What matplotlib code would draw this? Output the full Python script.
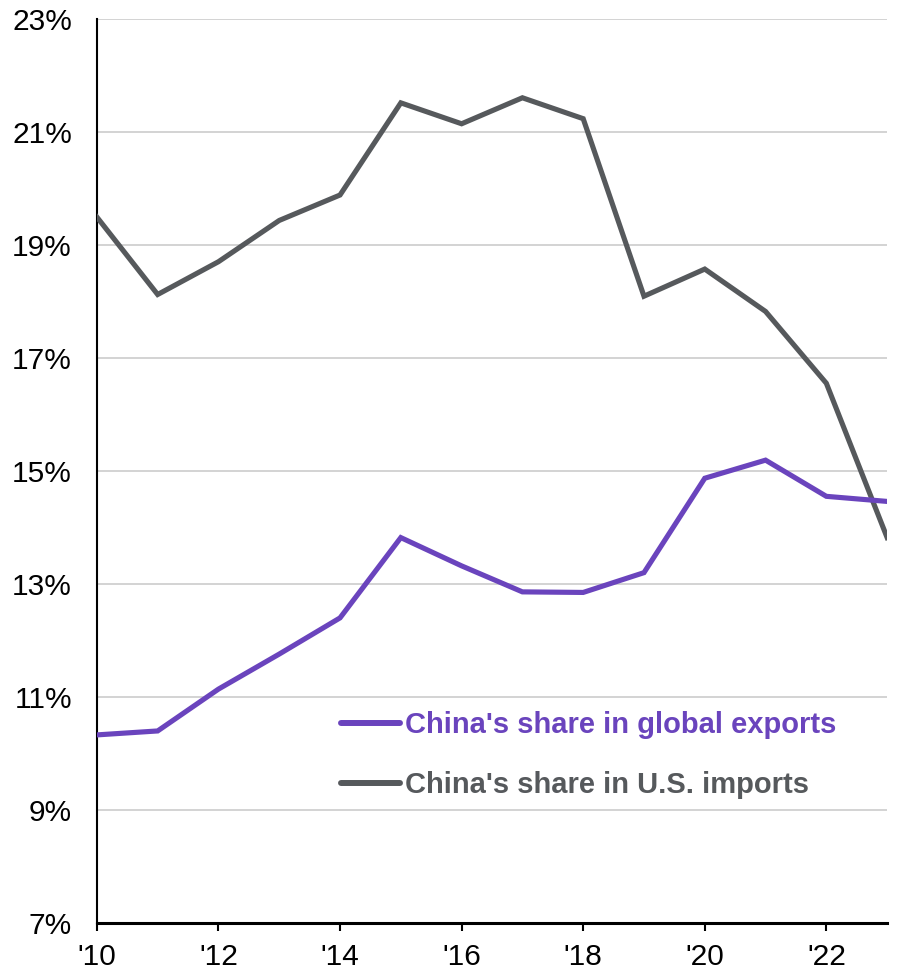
import matplotlib
matplotlib.use("Agg")
import matplotlib.pyplot as plt
from matplotlib.lines import Line2D

plt.rcParams['font.family'] = ['Liberation Sans', 'DejaVu Sans']

years = list(range(2010, 2024))
global_exports_share = [10.33, 10.40, 11.14, 11.76, 12.40, 13.82, 13.32, 12.86,
                        12.85, 13.20, 14.87, 15.19, 14.55, 14.46]
us_imports_share = [19.49, 18.12, 18.70, 19.43, 19.88, 21.51, 21.14, 21.60,
                    21.23, 18.09, 18.57, 17.82, 16.55, 13.82]
x_ticks = list(range(2010, 2023, 2))
x_tick_labels = ["'10", "'12", "'14", "'16", "'18", "'20", "'22"]
y_ticks = list(range(7, 24, 2))
y_tick_labels = [f"{v}%" for v in y_ticks]

purple = "#6a44bd"
gray = "#56595c"

fig = plt.figure(figsize=(8.97, 9.80), dpi=100)
ax = fig.add_axes([0.108, 0.058, 0.881, 0.923])

ax.plot(years, us_imports_share, color=gray, lw=3.7, solid_joinstyle='miter', zorder=3)
ax.plot(years, global_exports_share, color=purple, lw=3.7, solid_joinstyle='miter', zorder=4)

ax.set_xlim(2010, 2023)
ax.set_ylim(7, 23)
ax.set_xticks(x_ticks)
ax.set_xticklabels(x_tick_labels)
ax.set_yticks(y_ticks)
ax.set_yticklabels(y_tick_labels)

ax.grid(axis='y', color='#cccccc', lw=1.2)
ax.set_axisbelow(True)
for s in ['top', 'right']:
    ax.spines[s].set_visible(False)
ax.spines['left'].set_linewidth(1.5)
ax.spines['bottom'].set_linewidth(2.2)
ax.tick_params(axis='y', length=0, labelsize=21.5, pad=18, colors='black')
ax.tick_params(axis='x', length=6, width=1.5, direction='out', labelsize=21.5, pad=8)

handles = [Line2D([0], [0], color=purple, lw=4.3, solid_capstyle='round'),
           Line2D([0], [0], color=gray, lw=4.3, solid_capstyle='round')]
labels = ["China's share in global exports", "China's share in U.S. imports"]
leg = ax.legend(handles, labels, loc='upper left', bbox_to_anchor=(0.3635, 0.289),
                bbox_transform=fig.transFigure, frameon=False, borderpad=0,
                handlelength=2.05, handletextpad=0.17, labelspacing=1.08,
                prop={'weight': 'bold', 'size': 21})
for txt, c in zip(leg.get_texts(), [purple, gray]):
    txt.set_color(c)

fig.savefig("out.png", dpi=100)
